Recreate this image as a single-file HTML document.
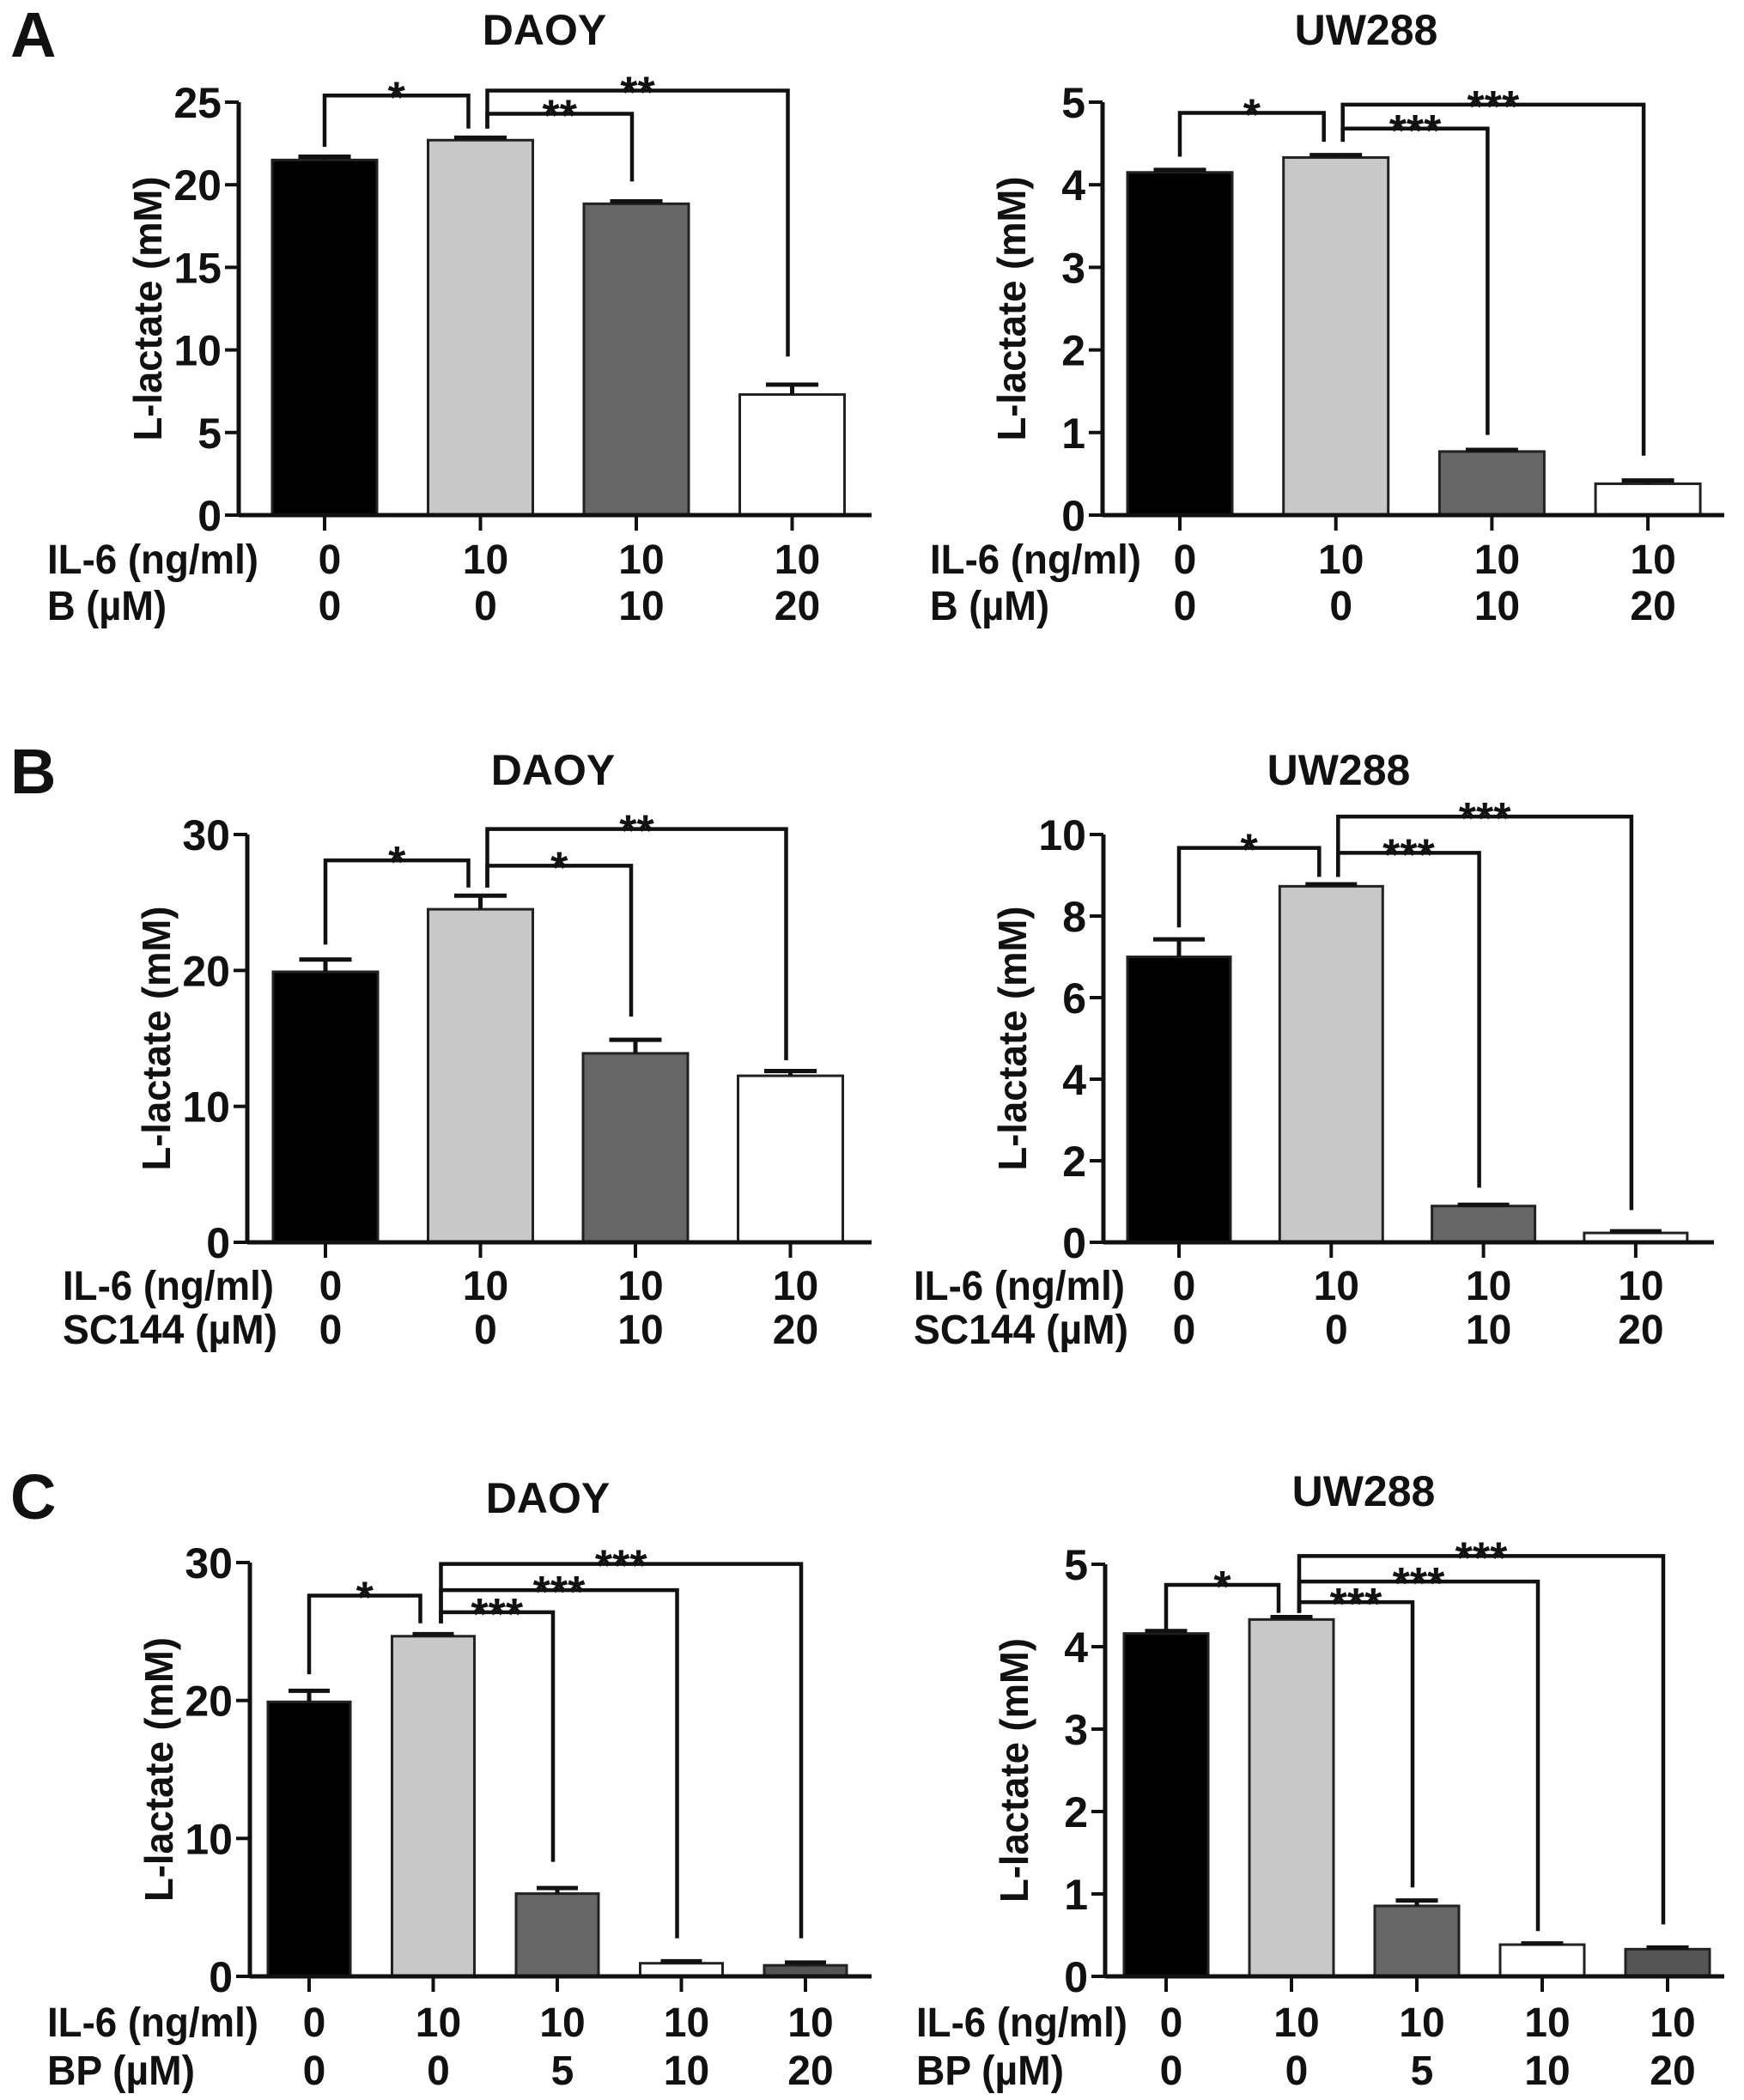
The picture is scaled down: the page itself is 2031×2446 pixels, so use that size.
<!DOCTYPE html>
<html><head><meta charset="utf-8">
<style>
html,body{margin:0;padding:0;background:#fff;}
svg{display:block;}
text{font-family:"Liberation Sans",Arial,sans-serif;font-weight:bold;fill:#111;}
</style></head>
<body>
<svg id="fig" xmlns="http://www.w3.org/2000/svg" width="2031" height="2446" viewBox="0 0 2031 2446">
<text x="12" y="66" font-size="74">A</text>
<text x="12" y="924" font-size="74">B</text>
<text x="12" y="1769" font-size="74">C</text>
</svg>
<script>
// ---------- DATA ----------
const A_DAOY_VALUES = [21.5, 22.7, 18.85, 7.3];
const A_DAOY_ERRORS = [0.2, 0.15, 0.15, 0.6];
const A_DAOY_IL6 = ["0","10","10","10"];
const A_DAOY_DRUG = ["0","0","10","20"];
const A_DAOY_TICKS = [0,5,10,15,20,25];
const A_DAOY_BRACKETS = [[0,1,25.4,22.3,23.4,"*"],[1,2,24.3,23.4,20.2,"**"],[1,3,25.7,23.4,9.6,"**"]];

const A_UW_VALUES = [4.15, 4.33, 0.77, 0.38];
const A_UW_ERRORS = [0.03, 0.03, 0.02, 0.04];
const A_UW_IL6 = ["0","10","10","10"];
const A_UW_DRUG = ["0","0","10","20"];
const A_UW_TICKS = [0,1,2,3,4,5];
const A_UW_BRACKETS = [[0,1,4.87,4.34,4.52,"*"],[1,2,4.68,4.52,0.97,"***"],[1,3,4.97,4.52,0.72,"***"]];

const B_DAOY_VALUES = [19.9, 24.5, 13.9, 12.25];
const B_DAOY_ERRORS = [0.9, 1.0, 1.0, 0.35];
const B_DAOY_IL6 = ["0","10","10","10"];
const B_DAOY_DRUG = ["0","0","10","20"];
const B_DAOY_TICKS = [0,10,20,30];
const B_DAOY_BRACKETS = [[0,1,28.1,21.9,26.1,"*"],[1,2,27.7,26.1,16.6,"*"],[1,3,30.4,26.1,13.4,"**"]];

const B_UW_VALUES = [7.0, 8.73, 0.89, 0.23];
const B_UW_ERRORS = [0.43, 0.05, 0.03, 0.04];
const B_UW_IL6 = ["0","10","10","10"];
const B_UW_DRUG = ["0","0","10","20"];
const B_UW_TICKS = [0,2,4,6,8,10];
const B_UW_BRACKETS = [[0,1,9.67,7.72,8.96,"*"],[1,2,9.55,8.96,1.34,"***"],[1,3,10.44,8.96,0.79,"***"]];

const C_DAOY_VALUES = [19.9, 24.66, 6.0, 0.95, 0.8];
const C_DAOY_ERRORS = [0.8, 0.15, 0.4, 0.15, 0.2];
const C_DAOY_IL6 = ["0","10","10","10","10"];
const C_DAOY_DRUG = ["0","0","5","10","20"];
const C_DAOY_TICKS = [0,10,20,30];
const C_DAOY_BRACKETS = [[0,1,27.6,21.9,25.6,"*"],[1,2,26.4,25.6,8.3,"***"],[1,3,28.0,25.6,2.76,"***"],[1,4,29.9,25.6,2.76,"***"]];

const C_UW_VALUES = [4.16, 4.33, 0.855, 0.385, 0.33];
const C_UW_ERRORS = [0.03, 0.03, 0.065, 0.015, 0.02];
const C_UW_IL6 = ["0","10","10","10","10"];
const C_UW_DRUG = ["0","0","5","10","20"];
const C_UW_TICKS = [0,1,2,3,4,5];
const C_UW_BRACKETS = [[0,1,4.75,4.19,4.41,"*"],[1,2,4.54,4.41,1.08,"***"],[1,3,4.79,4.41,0.55,"***"],[1,4,5.1,4.41,0.63,"***"]];

// ---------- LAYOUT ----------
const NS = "http://www.w3.org/2000/svg";
const svg = document.getElementById("fig");
function mk(tag, attrs, parent){
  const e = document.createElementNS(NS, tag);
  for (const k in attrs) e.setAttribute(k, attrs[k]);
  (parent||svg).appendChild(e);
  return e;
}
const FILLS4 = ["#000000","#c8c8c8","#666666","#ffffff"];
const FILLS5 = ["#000000","#c8c8c8","#666666","#ffffff","#555555"];

function drawPanel(id, title, values, errors, il6, drug, ticks, brackets, L){
  const g = mk("g", {});
  
  
  const yMax = ticks[ticks.length-1];
  const y = v => L.y0 - (v / yMax) * (L.y0 - L.yTop);
  const x = i => L.first + i * L.step;
  const fills = values.length === 5 ? FILLS5 : FILLS4;

  const t = mk("text", {x: L.titleX, y: L.titleY, "font-size": 50, "text-anchor": "middle"}, g);
  t.textContent = title;
  
  

  values.forEach((v, i) => {
    const b = mk("rect", {x: x(i) - L.bw/2, y: y(v), width: L.bw, height: L.y0 - y(v), fill: fills[i], stroke: "#222", "stroke-width": 3}, g);
    
    
    const top = y(v + errors[i]);
    const e = mk("path", {d: `M${x(i)},${y(v)} V${top} M${x(i)-L.bw/4},${top} H${x(i)+L.bw/4}`, stroke: "#111", "stroke-width": 5, fill: "none"}, g);
    
    
  });

  const ya = mk("path", {d: `M${L.ax},${L.yTop} V${L.y0}`, stroke: "#111", "stroke-width": 5, fill: "none"}, g);
  
  
  const xa = mk("path", {d: `M${L.ax},${L.y0} H${L.xEnd}`, stroke: "#111", "stroke-width": 5, fill: "none"}, g);
  
  

  ticks.forEach(tv => {
    const ty = y(tv);
    const tk = mk("path", {d: `M${L.ax-16},${ty} H${L.ax}`, stroke: "#111", "stroke-width": 4}, g);
    
    
    const tl = mk("text", {x: L.ax - 20, y: ty + 18, "font-size": 50, "text-anchor": "end"}, g);
    tl.textContent = String(tv);
    
    
  });
  values.forEach((v, i) => {
    const tk = mk("path", {d: `M${x(i)},${L.y0} V${L.y0+18}`, stroke: "#111", "stroke-width": 4}, g);
    
    
    const r1 = mk("text", {x: x(i) + 6, y: L.y0 + L.r1, "font-size": 48, "text-anchor": "middle"}, g);
    r1.textContent = il6[i];
    
    
    const r2 = mk("text", {x: x(i) + 6, y: L.y0 + L.r2, "font-size": 48, "text-anchor": "middle"}, g);
    r2.textContent = drug[i];
    
    
  });

  const l1 = mk("text", {x: L.labX, y: L.y0 + L.r1, "font-size": 48, textLength: L.len1, lengthAdjust: "spacingAndGlyphs"}, g);
  l1.textContent = "IL-6 (ng/ml)";
  
  
  const l2 = mk("text", {x: L.labX, y: L.y0 + L.r2, "font-size": 48, textLength: L.len2, lengthAdjust: "spacingAndGlyphs"}, g);
  l2.textContent = L.drugName + " (\u00b5M)";
  
  

  const yc = (L.y0 + L.yTop) / 2;
  const tx = L.ax - 90;
  const yt = mk("text", {x: tx, y: yc, "font-size": 46, "text-anchor": "middle", transform: `rotate(-90 ${tx} ${yc})`, textLength: 308, lengthAdjust: "spacingAndGlyphs"}, g);
  yt.textContent = "L-lactate (mM)";
  
  

  brackets.forEach(br => {
    const [from, to, level, fEnd, tEnd, lab] = br;
    const x1 = x(from) + (from === 1 ? L.off : 0);
    const x2 = x(to) + (to === 1 ? -L.off - 6 : -5);
    const ly = y(level);
    const p = mk("path", {d: `M${x1},${y(fEnd)} V${ly} H${x2} V${y(tEnd)}`, stroke: "#111", "stroke-width": 4.5, fill: "none"}, g);
    
    
    const st = mk("text", {x: (x1 + x2) / 2, y: ly + 20, "font-size": 52, "text-anchor": "middle"}, g);
    st.textContent = lab;
    
    
  });
}

drawPanel("a-daoy","DAOY",A_DAOY_VALUES,A_DAOY_ERRORS,A_DAOY_IL6,A_DAOY_DRUG,A_DAOY_TICKS,A_DAOY_BRACKETS,
  {ax:278,y0:600,yTop:119,first:378,step:181.5,bw:122,xEnd:1015,titleX:634,titleY:52,r1:68,r2:122,labX:55,len1:246,len2:139,drugName:"B",off:8});
drawPanel("a-uw288","UW288",A_UW_VALUES,A_UW_ERRORS,A_UW_IL6,A_UW_DRUG,A_UW_TICKS,A_UW_BRACKETS,
  {ax:1284,y0:600,yTop:119,first:1374,step:181.7,bw:122,xEnd:2008,titleX:1591,titleY:52,r1:68,r2:122,labX:1083,len1:246,len2:139,drugName:"B",off:8});
drawPanel("b-daoy","DAOY",B_DAOY_VALUES,B_DAOY_ERRORS,B_DAOY_IL6,B_DAOY_DRUG,B_DAOY_TICKS,B_DAOY_BRACKETS,
  {ax:288,y0:1447,yTop:972,first:379,step:180.5,bw:122,xEnd:1015,titleX:644,titleY:914,r1:67,r2:118,labX:73,len1:246,len2:250,drugName:"SC144",off:8});
drawPanel("b-uw288","UW288",B_UW_VALUES,B_UW_ERRORS,B_UW_IL6,B_UW_DRUG,B_UW_TICKS,B_UW_BRACKETS,
  {ax:1285,y0:1447,yTop:972,first:1373,step:177.3,bw:120,xEnd:1996,titleX:1559,titleY:914,r1:67,r2:118,labX:1064,len1:246,len2:250,drugName:"SC144",off:8});
drawPanel("c-daoy","DAOY",C_DAOY_VALUES,C_DAOY_ERRORS,C_DAOY_IL6,C_DAOY_DRUG,C_DAOY_TICKS,C_DAOY_BRACKETS,
  {ax:291,y0:2302,yTop:1820,first:360,step:144.5,bw:96,xEnd:1015,titleX:638,titleY:1762,r1:70,r2:126,labX:55,len1:246,len2:172,drugName:"BP",off:9});
drawPanel("c-uw288","UW288",C_UW_VALUES,C_UW_ERRORS,C_UW_IL6,C_UW_DRUG,C_UW_TICKS,C_UW_BRACKETS,
  {ax:1287,y0:2302,yTop:1822,first:1358,step:146,bw:98,xEnd:2008,titleX:1588,titleY:1754,r1:70,r2:126,labX:1067,len1:246,len2:172,drugName:"BP",off:9});
</script>
</body></html>
